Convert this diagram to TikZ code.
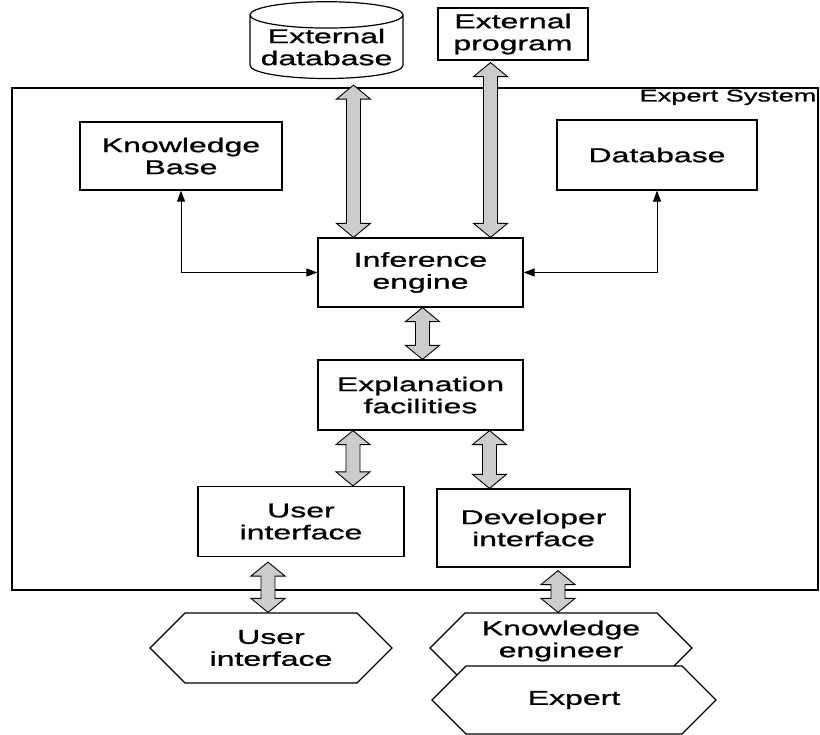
\documentclass[tikz,border=0pt]{standalone}
\usepackage{fontspec}
\setmainfont{Liberation Sans}[FakeStretch=1.6, FakeBold=1]
\usetikzlibrary{shapes.geometric,shapes.symbols,arrows.meta,calc}

\tikzset{
	box/.style = {draw, line width=1.2pt, align=center, minimum width=205pt, minimum height=70pt, inner sep=0pt},
	hexa/.style = {draw, line width=1.2pt, fill=white, align=center, signal, signal to=west and east, signal pointer angle=90, minimum height=70pt, inner sep=0pt},
	fatarr/.style = {draw, line width=0.9pt, fill=gray!40},
	thinarr/.style = {line width=1pt, {Triangle[length=11pt,width=8pt]}-{Triangle[length=11pt,width=8pt]}},
}
% hollow two-headed arrow: y of the top end from #1, x and bottom end from #2
\newcommand{\fatarrow}[2]{%
	\filldraw[fatarr] let \p1=#1, \p2=#2 in
		(\x2,\y1) -- ({\x2+17pt},{\y1-14pt}) -- ({\x2+7pt},{\y1-14pt}) -- ({\x2+7pt},{\y2+14pt})
		-- ({\x2+17pt},{\y2+14pt}) -- (\x2,\y2) -- ({\x2-17pt},{\y2+14pt}) -- ({\x2-7pt},{\y2+14pt})
		-- ({\x2-7pt},{\y1-14pt}) -- ({\x2-17pt},{\y1-14pt}) -- cycle;}

\begin{document}
\begin{tikzpicture}[x=1pt, y=-1pt, font=\fontsize{20}{22}\selectfont]
	\useasboundingbox (0,0) rectangle (820,735);
	\node (sysbox) [draw, line width=1.2pt, minimum width=806pt, minimum height=502pt] at (415,339) {};
	\node (syslabel) [anchor=north east, inner sep=2pt, font=\fontsize{17}{19}\selectfont] at (sysbox.north east) {Expert System};
	% outside the system
	\node (extdb) [cylinder, shape border rotate=90, draw, line width=1.2pt, aspect=0.2, minimum width=153pt, minimum height=55pt, align=center, inner sep=0pt] at (326.5,47) {External\\database};
	\node (extprog) [box, minimum width=150pt, minimum height=52pt] at (513,34) {External\\program};
	% inside the system
	\node (kb) [box, minimum width=202pt, minimum height=68pt] at (181,156) {Knowledge\\Base};
	\node (db) [box, minimum width=200pt] at (657,155) {Database};
	\node (infer) [box, minimum height=69pt] at (420.5,272.5) {Inference\\engine};
	\node (expl) [box] at (420.5,395) {Explanation\\facilities};
	\node (ui) [box, minimum width=206pt] at (301,521.5) {User\\interface};
	\node (dev) [box, minimum width=193pt, minimum height=78pt] at (533.5,528) {Developer\\interface};
	% users
	\node (userhex) [hexa, minimum width=242pt] at (271,648) {User\\interface};
	\node (kehex) [hexa, minimum width=262pt] at (561,648) {};
	\node (experthex) [hexa, minimum width=284pt, minimum height=68pt] at (574,700) {Expert};
	\node (ketext) [align=center, inner sep=0pt] at (561,641) {Knowledge\\engineer};

	\draw[thinarr] (kb.south) |- (infer.west);
	\draw[thinarr] (db.south) |- (infer.east);

	\fatarrow{([yshift=-6pt]extdb.south)}{([xshift=-67pt]infer.north)}
	\fatarrow{([yshift=-2pt]extprog.south)}{([xshift=70pt]infer.north)}
	\fatarrow{(infer.south)}{([xshift=2pt]expl.north)}
	\fatarrow{(expl.south)}{([xshift=52pt]ui.north)}
	\fatarrow{(expl.south)}{([xshift=-44pt]dev.north)}
	\fatarrow{([yshift=-5pt]ui.south)}{([xshift=-3pt]userhex.north)}
	\fatarrow{([yshift=-3pt]dev.south)}{([xshift=-3pt]kehex.north)}
\end{tikzpicture}
\end{document}
